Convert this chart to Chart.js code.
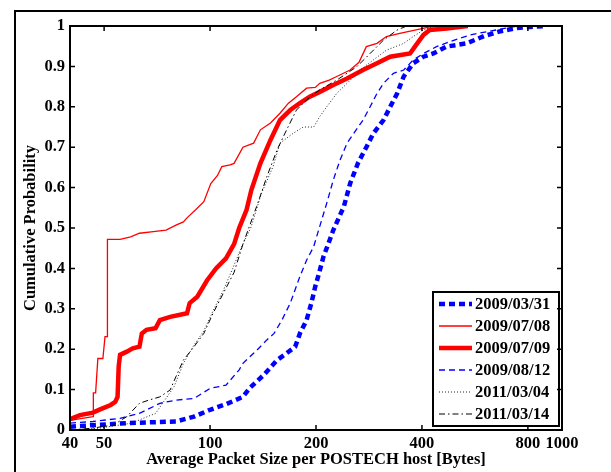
<!DOCTYPE html>
<html>
<head>
<meta charset="utf-8">
<script src="https://cdn.jsdelivr.net/npm/chart.js@4.4.1/dist/chart.umd.min.js"></script>
<style>
  html, body { margin: 0; padding: 0; background: #fff; overflow: hidden; }
  #wrap { position: relative; width: 611px; height: 472px; overflow: hidden; }
  #marco { position: absolute; left: 14px; top: 10px; width: 700px; height: 600px; border: 2px solid #000; }
  canvas { position: absolute; left: 0; top: 0; }
</style>
</head>
<body>
<div id="wrap">
  <div id="marco"></div>
  <canvas id="cdf" width="611" height="472"></canvas>
</div>
<script>
'use strict';
/* CDF del tamaño medio de paquete por host POSTECH */

const xTicks = [40, 50, 100, 200, 400, 800, 1000];
const yTicks = [0, 0.1, 0.2, 0.3, 0.4, 0.5, 0.6, 0.7, 0.8, 0.9, 1];

// 2009/03/31 (azul grueso, rayado)
const x0331 = [40, 46.5, 58, 80, 90, 100, 111, 124, 130, 142, 155, 165, 174.5, 180, 188, 194, 199, 204, 210, 217, 224, 240, 250, 263, 278, 291, 311, 325, 340, 355, 378, 404, 431, 470, 536, 600, 668, 745, 828, 900];
const p0331 = [0.008, 0.012, 0.017, 0.021, 0.033, 0.05, 0.064, 0.082, 0.105, 0.136, 0.173, 0.19, 0.206, 0.239, 0.272, 0.314, 0.355, 0.388, 0.429, 0.462, 0.495, 0.553, 0.61, 0.66, 0.70, 0.734, 0.767, 0.80, 0.833, 0.875, 0.908, 0.924, 0.932, 0.949, 0.957, 0.975, 0.987, 0.995, 0.998, 1.0];

// 2009/07/08 (rojo fino)
const x0708 = [40, 46.5, 46.6, 47.3, 48.0, 49.6, 50.3, 51.0, 51.1, 55.5, 59.5, 63, 69, 75, 80, 84, 86, 91, 96, 100.5, 105, 108, 114, 117, 124, 133, 139, 148.5, 158, 167, 176, 188, 199, 205, 218, 229, 250, 265, 278, 298, 317, 346, 382, 421, 540];
const p0708 = [0.024, 0.033, 0.092, 0.092, 0.177, 0.177, 0.231, 0.231, 0.472, 0.472, 0.478, 0.487, 0.491, 0.495, 0.507, 0.515, 0.525, 0.545, 0.565, 0.61, 0.63, 0.652, 0.656, 0.66, 0.70, 0.71, 0.743, 0.76, 0.784, 0.809, 0.825, 0.846, 0.848, 0.858, 0.866, 0.875, 0.891, 0.91, 0.949, 0.957, 0.974, 0.982, 0.99, 0.998, 1.0];

// 2009/07/09 (rojo grueso)
const x0709 = [40, 42.7, 46.5, 48.7, 52.2, 53.8, 54.6, 55, 55.5, 58, 60.3, 63, 64, 66, 70, 72, 77, 86, 87.5, 92, 98, 104, 111, 117, 121, 127, 131, 139, 148.5, 158, 169, 180, 192, 205, 224, 245, 272, 298, 325, 370, 382, 404, 421, 470, 540];
const p0709 = [0.027, 0.037, 0.043, 0.051, 0.062, 0.07, 0.082, 0.157, 0.186, 0.194, 0.202, 0.206, 0.239, 0.248, 0.252, 0.272, 0.28, 0.289, 0.314, 0.33, 0.37, 0.40, 0.425, 0.46, 0.50, 0.545, 0.594, 0.66, 0.718, 0.767, 0.792, 0.809, 0.825, 0.837, 0.854, 0.87, 0.891, 0.908, 0.924, 0.932, 0.949, 0.978, 0.99, 0.994, 1.0];

// 2009/08/12 (azul fino, rayado)
const x0812 = [40, 46.5, 55.5, 63, 72, 80, 90, 100, 111, 121, 124, 136, 145, 152, 160, 169, 180, 188, 197, 203.5, 214.5, 224, 234, 245, 256, 272, 285, 298, 311, 332, 355, 378, 404, 440, 480, 548, 613, 668, 745];
const p0812 = [0.017, 0.021, 0.029, 0.041, 0.066, 0.074, 0.078, 0.103, 0.111, 0.149, 0.165, 0.198, 0.223, 0.239, 0.272, 0.314, 0.38, 0.42, 0.454, 0.495, 0.561, 0.619, 0.668, 0.71, 0.734, 0.767, 0.80, 0.833, 0.858, 0.883, 0.891, 0.916, 0.932, 0.949, 0.961, 0.978, 0.986, 0.992, 1.0];

// 2011/03/04 (negro punteado)
const x1103 = [40, 48, 60, 65, 70, 79, 84, 90, 96, 102, 109, 116, 123, 130.5, 140, 151, 158, 172, 184, 197, 205, 214.5, 229, 245, 267, 291, 317, 355, 378, 404, 431];
const p1103 = [0, 0.004, 0.017, 0.03, 0.041, 0.107, 0.165, 0.21, 0.245, 0.295, 0.345, 0.40, 0.454, 0.50, 0.586, 0.652, 0.71, 0.734, 0.75, 0.75, 0.776, 0.80, 0.833, 0.858, 0.891, 0.916, 0.94, 0.957, 0.974, 0.99, 1.0];

// 2011/03/14 (negro raya-punto)
const x1114 = [40, 45.7, 53, 58, 63, 67, 72, 77, 80, 84, 90, 96, 102, 109, 117, 124, 135.6, 145, 155, 165, 176, 188, 205, 229, 261, 285, 311, 340, 362];
const p1114 = [0, 0.004, 0.012, 0.033, 0.066, 0.074, 0.082, 0.099, 0.132, 0.173, 0.206, 0.239, 0.289, 0.338, 0.39, 0.46, 0.553, 0.627, 0.693, 0.743, 0.792, 0.817, 0.842, 0.866, 0.899, 0.932, 0.965, 0.99, 1.0];

const pts = (xs, ps) => xs.map((x, i) => ({ x, y: ps[i] }));
const FUENTE = 'Liberation Serif, Times New Roman, serif';
const TAM = 16.5;

const series = [
  { label: '2009/03/31', data: pts(x0331, p0331), borderColor: '#0000ff', borderWidth: 4.5, borderDash: [6, 4] },
  { label: '2009/07/08', data: pts(x0708, p0708), borderColor: '#ff0000', borderWidth: 1.3, borderDash: [] },
  { label: '2009/07/09', data: pts(x0709, p0709), borderColor: '#ff0000', borderWidth: 4.5, borderDash: [] },
  { label: '2009/08/12', data: pts(x0812, p0812), borderColor: '#0000ff', borderWidth: 1.3, borderDash: [6, 4] },
  { label: '2011/03/04', data: pts(x1103, p1103), borderColor: '#222', borderWidth: 1, borderDash: [1, 2] },
  { label: '2011/03/14', data: pts(x1114, p1114), borderColor: '#000', borderWidth: 1, borderDash: [6, 3, 1.5, 3] },
];

// Caja estilo MATLAB: marco del eje, ticks hacia adentro y leyenda
const marcoMatlab = {
  id: 'marcoMatlab',
  afterDatasetsDraw(chart) {
    const { ctx, chartArea: a, scales: { x, y } } = chart;
    ctx.save();

    // leyenda
    const L = { x: 433, y: 292, w: 126, h: 134 };
    ctx.fillStyle = '#fff';
    ctx.fillRect(L.x, L.y, L.w, L.h);
    ctx.lineWidth = 2;
    ctx.strokeStyle = '#000';
    ctx.strokeRect(L.x, L.y, L.w, L.h);
    ctx.font = `bold ${TAM}px ${FUENTE}`;
    ctx.textBaseline = 'middle';
    ctx.textAlign = 'left';
    chart.data.datasets.forEach((d, i) => {
      const cy = 304 + i * 22;
      ctx.beginPath();
      ctx.setLineDash(d.borderDash || []);
      ctx.lineWidth = d.borderWidth;
      ctx.strokeStyle = d.borderColor;
      ctx.moveTo(439, cy);
      ctx.lineTo(472, cy);
      ctx.stroke();
      ctx.setLineDash([]);
      ctx.fillStyle = '#000';
      ctx.fillText(d.label, 475, cy + 1);
    });

    // ticks hacia adentro en los cuatro lados
    ctx.strokeStyle = '#000';
    ctx.lineWidth = 1.5;
    ctx.beginPath();
    xTicks.forEach(v => {
      const px = x.getPixelForValue(v);
      ctx.moveTo(px, a.bottom); ctx.lineTo(px, a.bottom - 5);
      ctx.moveTo(px, a.top); ctx.lineTo(px, a.top + 5);
    });
    yTicks.forEach(v => {
      const py = y.getPixelForValue(v);
      ctx.moveTo(a.left, py); ctx.lineTo(a.left + 5, py);
      ctx.moveTo(a.right, py); ctx.lineTo(a.right - 5, py);
    });
    ctx.stroke();
    ctx.lineWidth = 2;
    ctx.strokeRect(a.left, a.top, a.right - a.left, a.bottom - a.top);
    ctx.restore();
  },
};

Chart.defaults.color = '#000';
Chart.defaults.font.family = FUENTE;

new Chart(document.getElementById('cdf'), {
  type: 'line',
  data: {
    datasets: series.map((s, i) => ({
      ...s,
      pointRadius: 0,
      fill: false,
      tension: 0,
      order: series.length - i,
    })),
  },
  options: {
    responsive: false,
    animation: false,
    layout: { padding: { top: 26, right: 49, left: 0, bottom: 0 } },
    plugins: { legend: { display: false }, tooltip: { enabled: false } },
    scales: {
      x: {
        type: 'logarithmic',
        min: 40, max: 1000,
        afterBuildTicks: s => { s.ticks = xTicks.map(value => ({ value })); },
        afterFit: s => { s.height = 42; },
        grid: { display: false, drawTicks: false },
        border: { display: false },
        ticks: {
          autoSkip: false, maxRotation: 0, padding: 4,
          font: { size: TAM, weight: 'bold' },
          callback: v => String(v),
        },
        title: {
          display: true,
          text: 'Average Packet Size per POSTECH host [Bytes]',
          font: { size: TAM, weight: 'bold', lineHeight: 1.2 },
          padding: { top: 0, bottom: 2 },
        },
      },
      y: {
        min: 0, max: 1,
        afterBuildTicks: s => { s.ticks = yTicks.map(value => ({ value })); },
        afterFit: s => { s.width = 70; },
        grid: { display: false, drawTicks: false },
        border: { display: false },
        ticks: {
          padding: 5,
          font: { size: TAM, weight: 'bold' },
          callback: v => (v === 0 || v === 1) ? String(v) : v.toFixed(1),
        },
        title: {
          display: true,
          text: 'Cumulative Probability',
          font: { size: TAM, weight: 'bold', lineHeight: 1.2 },
          padding: { top: 21, bottom: 0 },
        },
      },
    },
  },
  plugins: [marcoMatlab],
});
</script>
</body>
</html>
